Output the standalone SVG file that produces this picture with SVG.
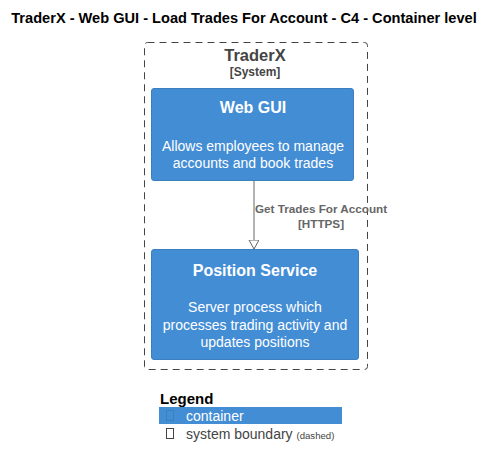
<svg xmlns="http://www.w3.org/2000/svg" width="495" height="468" viewBox="0 0 495 468">
<style>
text{font-family:"Liberation Sans",Arial,sans-serif}
.title{font-size:14.6px;font-weight:bold;fill:#000}
.bt{font-size:16px;font-weight:bold;fill:#fff;text-anchor:middle}
.bd{font-size:14px;fill:#fff;text-anchor:middle}
.box{fill:#438DD5;stroke:#3C7FC0;stroke-width:1}
.lbl{font-size:11.7px;font-weight:bold;fill:#666}
</style>
<defs>
<marker id="arr" markerWidth="10" markerHeight="12" refX="9" refY="5" orient="auto" markerUnits="userSpaceOnUse">
<path d="M0,0 L9,5 L0,10 Z" fill="#fff" stroke="#666" stroke-width="1"/>
</marker>
</defs>
<rect width="495" height="468" fill="#fff"/>
<text class="title" x="244" y="23" text-anchor="middle">TraderX - Web GUI - Load Trades For Account - C4 - Container level</text>
<g id="traderx">
<rect x="144.5" y="42.5" width="223" height="327" rx="3" fill="none" stroke="#444" stroke-dasharray="7,5"/>
<text x="255" y="61" font-size="16.5" font-weight="bold" fill="#444" text-anchor="middle">TraderX</text>
<text x="255" y="76" font-size="12" font-weight="bold" fill="#444" text-anchor="middle">[System]</text>
</g>
<g id="webgui">
<rect class="box" x="151.5" y="88.5" width="202" height="92" rx="2.5"/>
<text class="bt" x="253" y="113">Web GUI</text>
<text class="bd" x="253" y="151">Allows employees to manage</text>
<text class="bd" x="253" y="168">accounts and book trades</text>
</g>
<g id="positionservice">
<rect class="box" x="151.5" y="249.5" width="207" height="110" rx="2.5"/>
<text class="bt" x="255" y="276">Position Service</text>
<text class="bd" x="255" y="312">Server process which</text>
<text class="bd" x="255" y="330">processes trading activity and</text>
<text class="bd" x="255" y="347">updates positions</text>
</g>
<g id="connectors">
<line x1="254" y1="181" x2="254" y2="249" stroke="#666" stroke-width="1" marker-end="url(#arr)"/>
<text class="lbl" x="255" y="213">Get Trades For Account</text>
<text class="lbl" x="321" y="228" text-anchor="middle">[HTTPS]</text>
</g>
<g id="legend">
<text x="160" y="404" font-size="15" font-weight="bold" fill="#000">Legend</text>
<rect x="159" y="407" width="183" height="17" fill="#438DD5"/>
<rect x="166.5" y="410.5" width="7" height="10" fill="none" stroke="#3C7FC0" stroke-width="1"/>
<text x="186" y="421" font-size="14" fill="#fff">container</text>
<rect x="166.5" y="428.5" width="7" height="10" fill="none" stroke="#444" stroke-width="1"/>
<text x="186" y="439" font-size="14" fill="#444">system boundary <tspan font-size="9.6">(dashed)</tspan></text>
</g>
</svg>
